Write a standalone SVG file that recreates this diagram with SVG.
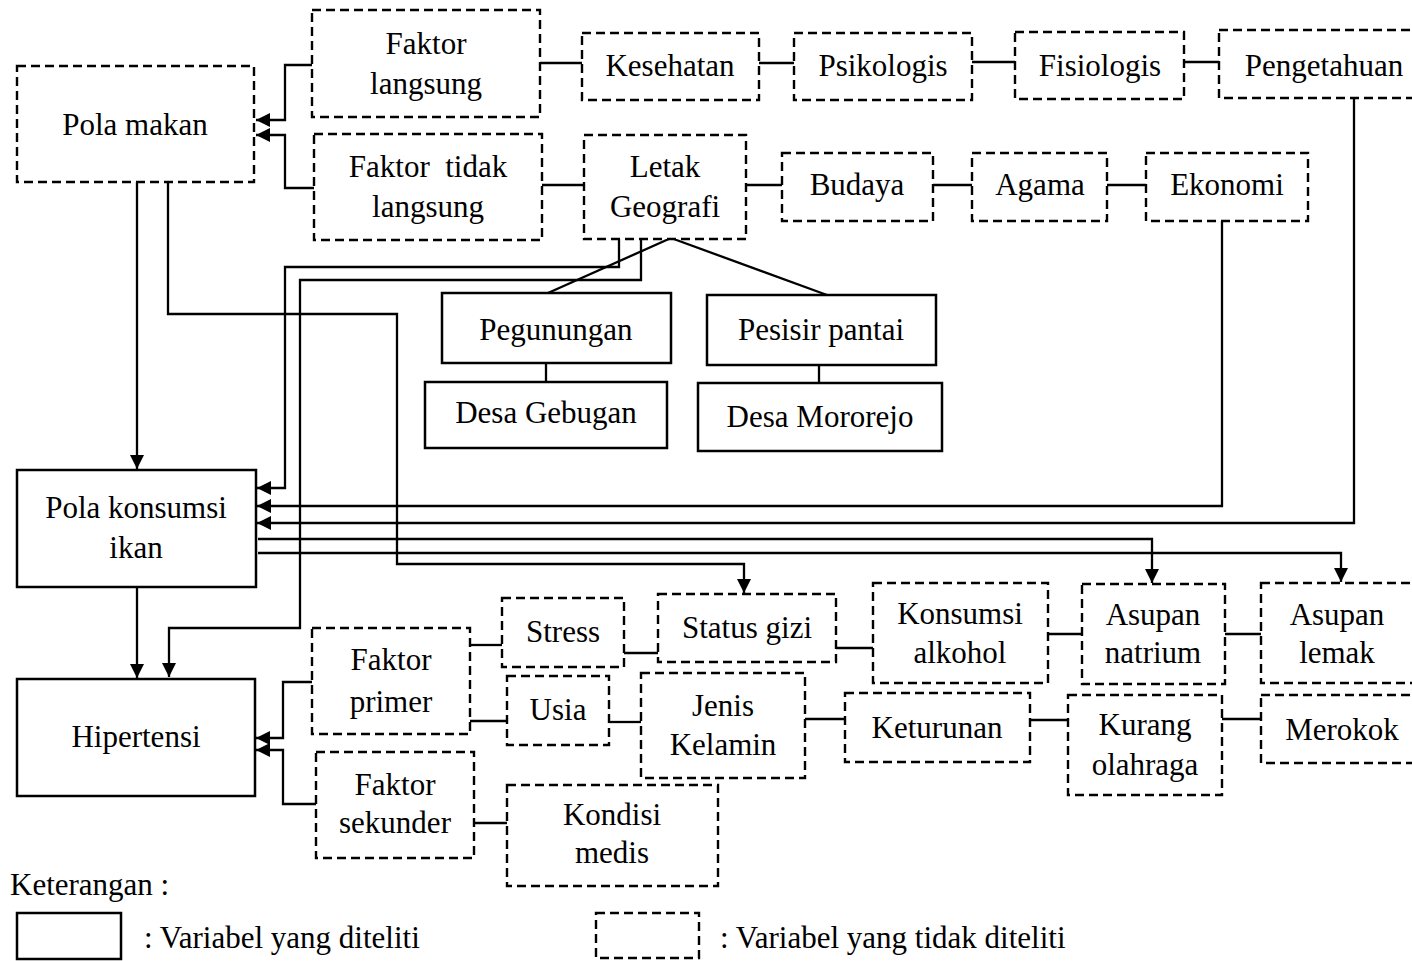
<svg xmlns="http://www.w3.org/2000/svg" width="1412" height="961" viewBox="0 0 1412 961">
<style>
.d{fill:#fff;stroke:#000;stroke-width:2.4;stroke-dasharray:9 5}
.s{fill:#fff;stroke:#000;stroke-width:2.5}
text{font-family:"Liberation Serif","Times New Roman",serif;font-size:31px;fill:#000;text-anchor:middle}
.l{text-anchor:start}
.c{fill:none;stroke:#000;stroke-width:2.3}
.a{marker-end:url(#ah)}
</style>
<defs>
<marker id="ah" markerUnits="userSpaceOnUse" markerWidth="15" markerHeight="14" refX="14" refY="7" orient="auto">
<path d="M0,0 L14,7 L0,14 z" fill="#000"/>
</marker>
</defs>
<rect width="1412" height="961" fill="#fff"/>
<g id="connectors">
<path class="c a" d="M312,65 H285 V120 H256"/>
<path class="c a" d="M314,188 H285 V135 H256"/>
<path class="c" d="M540,63 H582"/>
<path class="c" d="M759,63 H794"/>
<path class="c" d="M972,62 H1015"/>
<path class="c" d="M1184,62 H1219"/>
<path class="c" d="M542,185 H584"/>
<path class="c" d="M746,185 H782"/>
<path class="c" d="M933,185 H972"/>
<path class="c" d="M1107,185 H1146"/>
<path class="c" d="M671,238 L548,293"/>
<path class="c" d="M671,238 L827,295"/>
<path class="c" d="M546,363 V382"/>
<path class="c" d="M819,365 V383"/>
<path class="c a" d="M619,239 V267 H285 V488 H257"/>
<path class="c a" d="M641,239 V280 H300 V628 H169 V677"/>
<path class="c a" d="M137,182 V469"/>
<path class="c a" d="M168,182 V314 H397 V564 H744 V593"/>
<path class="c a" d="M1222,221 V506 H257"/>
<path class="c a" d="M1354,98 V523 H257"/>
<path class="c a" d="M258,539 H1152 V583"/>
<path class="c a" d="M258,553 H1341 V582"/>
<path class="c a" d="M137,587 V678"/>
<path class="c a" d="M312,682 H283 V738 H256"/>
<path class="c a" d="M316,804 H283 V750 H256"/>
<path class="c" d="M470,645 H502"/>
<path class="c" d="M624,653 H658"/>
<path class="c" d="M836,648 H873"/>
<path class="c" d="M1048,634 H1082"/>
<path class="c" d="M1225,634 H1261"/>
<path class="c" d="M470,721 H507"/>
<path class="c" d="M609,722 H641"/>
<path class="c" d="M805,719 H845"/>
<path class="c" d="M1030,720 H1068"/>
<path class="c" d="M1222,719 H1261"/>
<path class="c" d="M474,823 H507"/>
</g>
<g id="pola-makan"><rect class="d" x="17" y="66" width="237" height="116"/><text x="135" y="135">Pola makan</text></g>
<g id="faktor-langsung"><rect class="d" x="312" y="10" width="228" height="107"/><text x="426" y="54">Faktor</text><text x="426" y="94">langsung</text></g>
<g id="faktor-tidak-langsung"><rect class="d" x="314" y="134" width="228" height="106"/><text x="428" y="177" xml:space="preserve" style="white-space:pre">Faktor  tidak</text><text x="428" y="217">langsung</text></g>
<g id="kesehatan"><rect class="d" x="582" y="33" width="177" height="67"/><text x="670" y="76">Kesehatan</text></g>
<g id="psikologis"><rect class="d" x="794" y="33" width="178" height="67"/><text x="883" y="76">Psikologis</text></g>
<g id="fisiologis"><rect class="d" x="1015" y="32" width="169" height="67"/><text x="1100" y="76">Fisiologis</text></g>
<g id="pengetahuan"><rect class="d" x="1219" y="30" width="211" height="68"/><text x="1324" y="76">Pengetahuan</text></g>
<g id="letak-geografi"><rect class="d" x="584" y="135" width="162" height="104"/><text x="665" y="177">Letak</text><text x="665" y="217">Geografi</text></g>
<g id="budaya"><rect class="d" x="782" y="153" width="151" height="68"/><text x="857" y="195">Budaya</text></g>
<g id="agama"><rect class="d" x="972" y="153" width="135" height="68"/><text x="1040" y="195">Agama</text></g>
<g id="ekonomi"><rect class="d" x="1146" y="153" width="162" height="68"/><text x="1227" y="195">Ekonomi</text></g>
<g id="pegunungan"><rect class="s" x="442" y="293" width="229" height="70"/><text x="556" y="340">Pegunungan</text></g>
<g id="pesisir-pantai"><rect class="s" x="707" y="295" width="229" height="70"/><text x="821" y="340">Pesisir pantai</text></g>
<g id="desa-gebugan"><rect class="s" x="425" y="382" width="242" height="66"/><text x="546" y="423">Desa Gebugan</text></g>
<g id="desa-mororejo"><rect class="s" x="698" y="383" width="244" height="68"/><text x="820" y="427">Desa Mororejo</text></g>
<g id="pola-konsumsi-ikan"><rect class="s" x="17" y="470" width="239" height="117"/><text x="136" y="518">Pola konsumsi</text><text x="136" y="558">ikan</text></g>
<g id="hipertensi"><rect class="s" x="17" y="679" width="238" height="117"/><text x="136" y="747">Hipertensi</text></g>
<g id="stress"><rect class="d" x="502" y="598" width="122" height="69"/><text x="563" y="642">Stress</text></g>
<g id="status-gizi"><rect class="d" x="658" y="594" width="178" height="68"/><text x="747" y="638">Status gizi</text></g>
<g id="konsumsi-alkohol"><rect class="d" x="873" y="583" width="175" height="100"/><text x="960" y="624">Konsumsi</text><text x="960" y="663">alkohol</text></g>
<g id="asupan-natrium"><rect class="d" x="1082" y="584" width="143" height="100"/><text x="1153" y="625">Asupan</text><text x="1153" y="663">natrium</text></g>
<g id="asupan-lemak"><rect class="d" x="1261" y="583" width="169" height="100"/><text x="1337" y="625">Asupan</text><text x="1337" y="663">lemak</text></g>
<g id="faktor-primer"><rect class="d" x="312" y="628" width="158" height="106"/><text x="391" y="670">Faktor</text><text x="391" y="712">primer</text></g>
<g id="usia"><rect class="d" x="507" y="676" width="102" height="69"/><text x="558" y="720">Usia</text></g>
<g id="jenis-kelamin"><rect class="d" x="641" y="673" width="164" height="105"/><text x="723" y="716">Jenis</text><text x="723" y="755">Kelamin</text></g>
<g id="keturunan"><rect class="d" x="845" y="693" width="185" height="69"/><text x="937" y="738">Keturunan</text></g>
<g id="kurang-olahraga"><rect class="d" x="1068" y="695" width="154" height="100"/><text x="1145" y="735">Kurang</text><text x="1145" y="775">olahraga</text></g>
<g id="merokok"><rect class="d" x="1261" y="695" width="169" height="68"/><text x="1342" y="740">Merokok</text></g>
<g id="faktor-sekunder"><rect class="d" x="316" y="752" width="158" height="106"/><text x="395" y="795">Faktor</text><text x="395" y="833">sekunder</text></g>
<g id="kondisi-medis"><rect class="d" x="507" y="785" width="211" height="101"/><text x="612" y="825">Kondisi</text><text x="612" y="863">medis</text></g>
<g id="legend">
<text class="l" x="10" y="895">Keterangan :</text>
<rect class="s" x="17" y="913" width="104" height="46"/>
<text class="l" x="144" y="948">: Variabel yang diteliti</text>
<rect class="d" x="596" y="913" width="103" height="45"/>
<text class="l" x="720" y="948">: Variabel yang tidak diteliti</text>
</g>
</svg>
